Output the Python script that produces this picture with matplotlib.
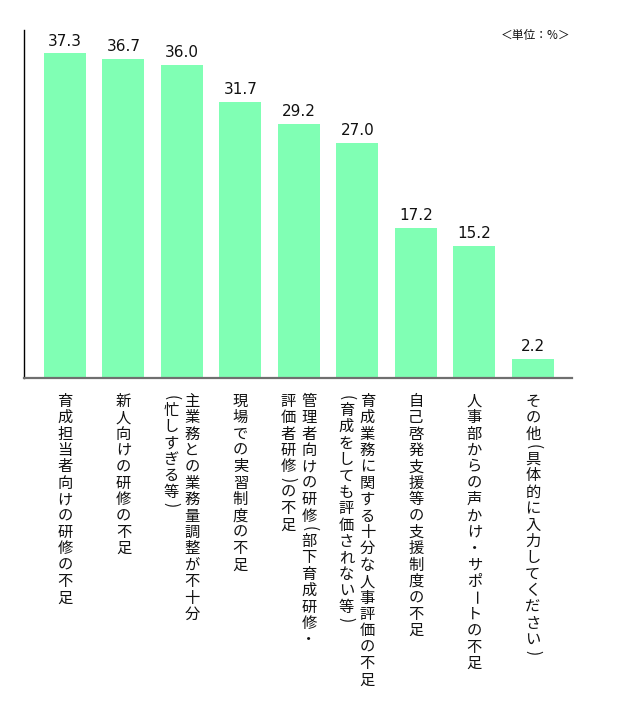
import matplotlib
matplotlib.use('Agg')
import matplotlib.pyplot as plt

plt.rcParams['font.family'] = ['Noto Sans CJK JP', 'DejaVu Sans']

# data
labels = [
    ['育成担当者向けの研修の不足'],
    ['新人向けの研修の不足'],
    ['主業務との業務量調整が不十分', '(忙しすぎる等)'],
    ['現場での実習制度の不足'],
    ['管理者向けの研修(部下育成研修・', '評価者研修)の不足'],
    ['育成業務に関する十分な人事評価の不足', '(育成をしても評価されない等)'],
    ['自己啓発支援等の支援制度の不足'],
    ['人事部からの声かけ・サポートの不足'],
    ['その他(具体的に入力してください)'],
]
values = [37.3, 36.7, 36.0, 31.7, 29.2, 27.0, 17.2, 15.2, 2.2]

bar_color = '#80FFB4'
PX = 72 / 100.  # points per pixel at dpi 100

fig = plt.figure(figsize=(6.28, 7.03), dpi=100)
ax = fig.add_axes([24/628, 1 - 378/703, (572 - 24)/628, (378 - 30)/703])

x = list(range(len(values)))
bars = ax.bar(x, values, width=0.72, color=bar_color, zorder=1)
ax.bar_label(bars, fmt='%.1f', padding=3.5, fontsize=11,
             family='DejaVu Sans', color='#111111')

ax.set_xlim(-0.70, len(values) - 1 + 0.67)
ax.set_ylim(0, 40)
ax.set_xticks([])
ax.set_yticks([])
for s in ['top', 'right']:
    ax.spines[s].set_visible(False)
ax.spines['left'].set_color('black')
ax.spines['left'].set_linewidth(1.0)
ax.spines['bottom'].set_color('#6f6f6f')
ax.spines['bottom'].set_linewidth(1.6)
ax.spines['bottom'].set_zorder(3)

# vertical (tategaki) category labels, first line is the rightmost column
rotate_chars = set('()ー')
half_chars = set('()')
pitch = 16.4
top = 15.0
col_offsets = {1: [0.0], 2: [10.0, -11.0]}
for i, lines in enumerate(labels):
    offs = col_offsets[len(lines)]
    for line, dx in zip(lines, offs):
        y = top
        for ch in line:
            adv = pitch * 0.55 if ch in half_chars else pitch
            rot = -90 if ch in rotate_chars else 0
            ax.annotate(ch, xy=(i, 0), xycoords=('data', 'axes fraction'),
                        xytext=(dx * PX, -(y + adv / 2) * PX),
                        textcoords='offset points', ha='center', va='center',
                        rotation=rot, fontsize=11, color='#111111',
                        annotation_clip=False)
            y += adv

fig.text(570/628, 1 - 36/703, '＜単位：%＞', ha='right', va='center',
         fontsize=8.5, color='#111111')

fig.savefig('out.png', dpi=100)
